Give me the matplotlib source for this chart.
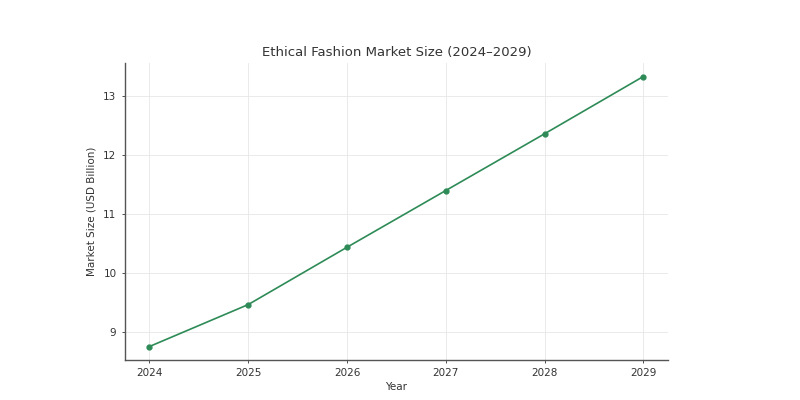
import matplotlib; matplotlib.use("Agg"); import matplotlib.pyplot as plt

years = [2024, 2025, 2026, 2027, 2028, 2029]
market_size = [8.76, 9.47, 10.44, 11.40, 12.36, 13.33]

plt.rcParams["font.family"] = "DejaVu Sans"
plt.rcParams["text.color"] = "#333333"
plt.rcParams["axes.labelcolor"] = "#333333"
plt.rcParams["xtick.color"] = "#333333"
plt.rcParams["ytick.color"] = "#333333"

fig = plt.figure(figsize=(8, 4), dpi=100)
ax = fig.add_axes([0.156, 0.1, 0.679, 0.7425])

ax.plot(years, market_size, color="#2e8b57", marker="o", markersize=3.5, linewidth=1.2)

ax.set_title("Ethical Fashion Market Size (2024–2029)", fontsize=9.5, pad=5)
ax.set_xlabel("Year", fontsize=7.5, labelpad=3)
ax.set_ylabel("Market Size (USD Billion)", fontsize=7.5, labelpad=5)
ax.set_xticks(years)
ax.tick_params(labelsize=7.5, length=2.5, width=0.6)
ax.grid(True, color="#e6e6e6", linewidth=0.6)
ax.set_axisbelow(True)
for s in ["top", "right"]:
    ax.spines[s].set_visible(False)
for s in ["left", "bottom"]:
    ax.spines[s].set_color("#555555")
    ax.spines[s].set_linewidth(1.0)

plt.savefig("out.png", dpi=100)
